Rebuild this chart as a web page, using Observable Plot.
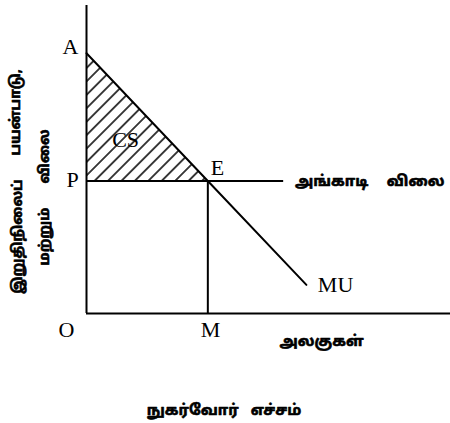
<!DOCTYPE html>
<html>
<head>
<meta charset="utf-8">
<script src="https://cdn.jsdelivr.net/npm/d3@7"></script>
<script src="https://cdn.jsdelivr.net/npm/@observablehq/plot@0.6"></script>
<style>
  html, body { margin: 0; padding: 0; background: #fff; }
  svg { overflow: visible; }
</style>
</head>
<body>
<div id="chart"></div>
<script>
// Marginal utility curve (quantity, utility)
const muQuantity = [0, 4, 7.25];
const muValue = [8.45, 4.3, 0.93];
// market price and equilibrium quantity
const marketPrice = 4.3;
const marketLineEnd = 6.5;
const equilibriumQty = 4;
// labels
const pointLabels = ["A", "P", "E", "CS", "O", "M", "MU"];
const priceLabelWords = ["அங்காடி", "விலை"];
const xAxisLabel = "அலகுகள்";
const titleWords = ["நுகர்வோர்", "எச்சம்"];
const yLabelLine1 = ["இறுதிநிலைப்", "பயன்பாடு,"];
const yLabelLine2 = ["மற்றும்", "விலை"];

const muData = muQuantity.map((q, i) => ({q, v: muValue[i]}));
const csData = muData.filter(d => d.q <= equilibriumQty);

const serif = "'Liberation Serif', 'Times New Roman', serif";
const tamil = "'Noto Sans Tamil', 'Lohit Tamil', 'Noto Sans', sans-serif";

const letterPos = [
  {t: pointLabels[0], x: -0.53, y: 8.64},
  {t: pointLabels[1], x: -0.46, y: 4.32},
  {t: pointLabels[2], x: 4.32, y: 4.71},
  {t: pointLabels[3], x: 1.29, y: 5.62},
  {t: pointLabels[4], x: -0.66, y: -0.55},
  {t: pointLabels[5], x: 4.09, y: -0.55},
  {t: pointLabels[6], x: 8.21, y: 0.94}
];
const tamilPos = [
  {t: priceLabelWords[0], x: 8.08, y: 4.29},
  {t: priceLabelWords[1], x: 10.85, y: 4.29},
  {t: xAxisLabel, x: 7.75, y: -0.91},
  {t: titleWords[0], x: 3.5, y: -3.15},
  {t: titleWords[1], x: 6.25, y: -3.15}
];
const rotPos = [
  {t: yLabelLine1[0], x: -2.27, y: 2.5},
  {t: yLabelLine1[1], x: -2.34, y: 6.53},
  {t: yLabelLine2[0], x: -1.38, y: 2.5},
  {t: yLabelLine2[1], x: -1.38, y: 5.1}
];

const svg = Plot.plot({
  width: 450,
  height: 423,
  marginLeft: 86,
  marginRight: 0,
  marginTop: 5,
  marginBottom: 110,
  x: {domain: [0, 12], axis: null},
  y: {domain: [0, 10], axis: null},
  style: {background: "#fff", overflow: "visible"},
  marks: [
    Plot.areaY(csData, {x: "q", y1: marketPrice, y2: "v", fill: "url(#hatch)", curve: "linear"}),
    Plot.ruleX([0], {stroke: "#000", strokeWidth: 2}),
    Plot.ruleY([0], {stroke: "#000", strokeWidth: 2}),
    Plot.ruleY([marketPrice], {x1: 0, x2: marketLineEnd, stroke: "#000", strokeWidth: 2}),
    Plot.ruleX([equilibriumQty], {y1: 0, y2: marketPrice, stroke: "#000", strokeWidth: 2}),
    Plot.line(muData, {x: "q", y: "v", stroke: "#000", strokeWidth: 2}),
    Plot.text(letterPos, {x: "x", y: "y", text: "t", fontSize: 22, fontFamily: serif, fill: "#000"}),
    Plot.text(tamilPos, {x: "x", y: "y", text: "t", fontSize: 15, fontWeight: "bold", fontFamily: tamil, fill: "#000", stroke: "#000", strokeWidth: 0.6}),
    Plot.text(rotPos, {x: "x", y: "y", text: "t", rotate: -90, fontSize: 14, fontWeight: "bold", fontFamily: tamil, fill: "#000", stroke: "#000", strokeWidth: 0.6})
  ]
});

const ns = "http://www.w3.org/2000/svg";
const defs = document.createElementNS(ns, "defs");
const pat = document.createElementNS(ns, "pattern");
pat.setAttribute("id", "hatch");
pat.setAttribute("patternUnits", "userSpaceOnUse");
pat.setAttribute("width", "9.5");
pat.setAttribute("height", "9.5");
pat.setAttribute("patternTransform", "rotate(-45)");
const ln = document.createElementNS(ns, "line");
ln.setAttribute("x1", "0"); ln.setAttribute("y1", "4.75");
ln.setAttribute("x2", "9.5"); ln.setAttribute("y2", "4.75");
ln.setAttribute("stroke", "#000"); ln.setAttribute("stroke-width", "1.5");
pat.appendChild(ln);
defs.appendChild(pat);
svg.insertBefore(defs, svg.firstChild);

document.getElementById("chart").appendChild(svg);
</script>
</body>
</html>
